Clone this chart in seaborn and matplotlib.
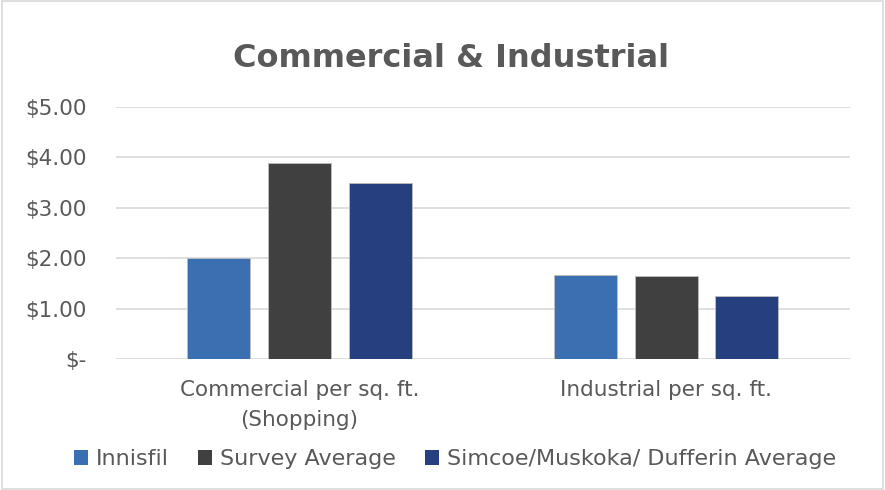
import matplotlib
matplotlib.use("Agg")
import matplotlib.pyplot as plt
import seaborn as sns
import pandas as pd
from matplotlib.patches import Patch

categories = ["Commercial per sq. ft.\n(Shopping)", "Industrial per sq. ft."]
series = ["Innisfil", "Survey Average", "Simcoe/Muskoka/ Dufferin Average"]
innisfil = [2.00, 1.67]
survey_avg = [3.89, 1.65]
simcoe_avg = [3.50, 1.25]
yticks = [0, 1, 2, 3, 4, 5]
ytick_labels = ["$-", "$1.00", "$2.00", "$3.00", "$4.00", "$5.00"]
colors = ["#3A70B1", "#404040", "#263F7E"]

rows = []
for s, vals in zip(series, [innisfil, survey_avg, simcoe_avg]):
    for c, v in zip(categories, vals):
        rows.append({"category": c, "series": s, "value": v})
df = pd.DataFrame(rows)

sns.set_theme(style="white")
plt.rcParams['font.family'] = ['DejaVu Sans']
text_color = "#595959"

fig = plt.figure(figsize=(8.85, 4.9), dpi=100)
ax = fig.add_axes([0.131, 0.267, 0.829, 0.515])
sns.barplot(data=df, x="category", y="value", hue="series", order=categories,
            hue_order=series, palette=colors, width=0.66, gap=0.22,
            ax=ax, legend=False, edgecolor="#BFBFBF", linewidth=0.6, saturation=1)

ax.set_ylim(0, 5)
ax.set_xlim(-0.5, 1.5)
ax.set_yticks(yticks)
ax.set_yticklabels(ytick_labels, color=text_color, fontsize=15.5)
ax.tick_params(axis="x", colors=text_color, labelsize=15.5, length=0, pad=15)
for lbl in ax.get_xticklabels():
    lbl.set_linespacing(1.6)
ax.tick_params(axis="y", length=0, pad=21)
ax.set_xlabel("")
ax.set_ylabel("")
ax.yaxis.grid(True, color="#D9D9D9", linewidth=1.2)
ax.set_axisbelow(True)
for sp in ax.spines.values():
    sp.set_visible(False)

fig.text(0.51, 0.88, "Commercial & Industrial", ha="center", va="center",
         fontsize=23, fontweight="bold", color=text_color)

handles = [Patch(facecolor=c, edgecolor="none") for c in colors]
fig.legend(handles, series, loc="center", bbox_to_anchor=(0.514, 0.063), ncol=3,
           frameon=False, fontsize=16, labelcolor=text_color,
           handlelength=0.65, handleheight=0.65, handletextpad=0.35, columnspacing=1.3)

border = plt.Rectangle((0.002, 0.002), 0.996, 0.996, transform=fig.transFigure,
                       fill=False, edgecolor="#D9D9D9", linewidth=1.2)
fig.patches.append(border)

fig.savefig("out.png", dpi=100)
